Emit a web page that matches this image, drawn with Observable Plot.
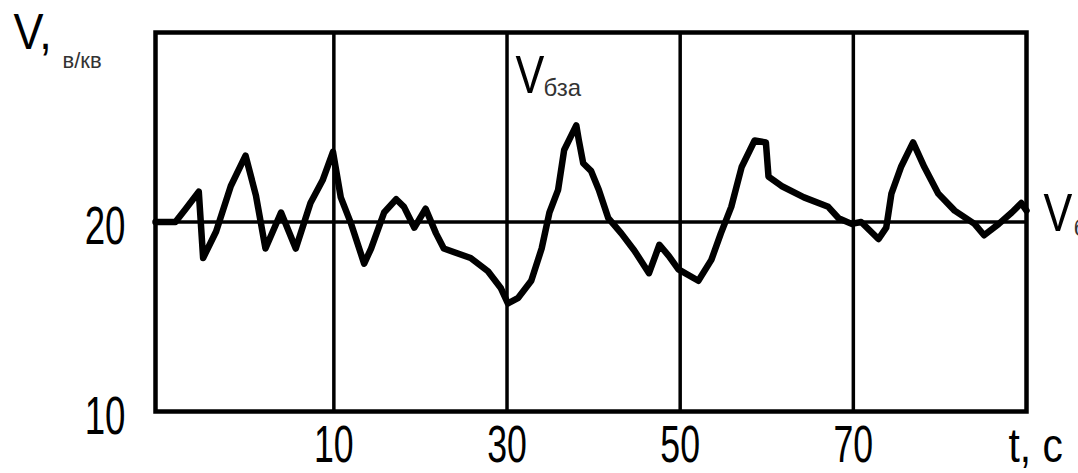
<!DOCTYPE html>
<html>
<head>
<meta charset="utf-8">
<script src="https://cdn.jsdelivr.net/npm/d3@7"></script>
<script src="https://cdn.jsdelivr.net/npm/@observablehq/plot@0.6"></script>
<style>
  html, body { margin: 0; padding: 0; background: #fff; overflow: hidden; }
  svg { display: block; }
</style>
</head>
<body>
<div id="chart"></div>
<script>
// time, s
const tValues = [-10.6, -8.3, -7.1, -5.6, -5.1, -3.6, -1.9, -0.2, 1.0, 2.1,
  3.9, 5.6, 7.3, 8.7, 9.9, 10.8, 12.0, 13.5, 14.3, 15.8,
  17.2, 18.1, 19.3, 20.6, 21.8, 22.7, 25.8, 27.8, 29.3, 30.1,
  31.3, 32.8, 34.0, 34.9, 35.9, 36.6, 38.0, 38.3, 38.8, 39.7,
  40.6, 41.7, 43.2, 44.7, 46.4, 47.6, 48.7, 49.8, 52.1, 53.6,
  54.7, 55.9, 57.1, 58.6, 59.9, 60.2, 61.7, 64.3, 67.1, 68.3,
  69.8, 70.9, 72.9, 73.8, 74.4, 75.5, 76.9, 78.2, 79.8, 81.7,
  84.0, 85.1, 86.8, 88.3, 89.4, 90.0];
// V values
const vValues = [20.0, 20.0, 20.7, 21.6, 18.1, 19.5, 21.9, 23.5, 21.4, 18.6,
  20.5, 18.6, 21.0, 22.2, 23.7, 21.3, 19.9, 17.8, 18.6, 20.5,
  21.2, 20.8, 19.7, 20.7, 19.4, 18.6, 18.1, 17.4, 16.5, 15.7,
  16.0, 16.9, 18.6, 20.5, 21.7, 23.8, 25.1, 24.3, 23.1, 22.7,
  21.7, 20.2, 19.4, 18.5, 17.3, 18.8, 18.2, 17.5, 16.9, 18.0,
  19.4, 20.8, 22.9, 24.3, 24.2, 22.4, 21.9, 21.3, 20.8, 20.2,
  19.9, 20.0, 19.1, 19.7, 21.5, 22.9, 24.2, 22.9, 21.5, 20.6,
  19.9, 19.3, 19.9, 20.5, 21.0, 20.6];
const xTicks = [10, 30, 50, 70];
const yTicks = [10, 20];
const baseLevel = [20];
const xDomain = [-10.6, 90];
const yDomain = [10, 30];

const data = tValues.map((t, i) => ({t, v: vValues[i]}));
const font = "'Liberation Sans', Arial, sans-serif";

const chart = Plot.plot({
  width: 1078,
  height: 473,
  marginLeft: 155,
  marginRight: 52,
  marginTop: 32,
  marginBottom: 62,
  style: {fontFamily: font, color: "#000", background: "#fff"},
  x: {domain: xDomain},
  y: {domain: yDomain},
  marks: [
    Plot.ruleX(xTicks, {stroke: "#000", strokeWidth: 3.5}),
    Plot.ruleY(baseLevel, {stroke: "#000", strokeWidth: 3.5}),
    Plot.frame({stroke: "#000", strokeWidth: 4.5}),
    Plot.line(data, {x: "t", y: "v", stroke: "#000", strokeWidth: 6.5, strokeLinejoin: "round", strokeLinecap: "round"}),
    Plot.axisX(xTicks, {tickSize: 0, tickPadding: 14, fontSize: 51, label: null, tickFormat: d => String(d)}),
    Plot.axisY(yTicks, {tickSize: 0, tickPadding: 30, fontSize: 54, dy: 5, label: null, tickFormat: d => String(d)}),
    Plot.text(["V,"], {frameAnchor: "top-left", dx: -142, dy: 16, textAnchor: "start", lineAnchor: "bottom", fontSize: 50}),
    Plot.text(["в/кв"], {frameAnchor: "top-left", dx: -93, dy: 35, textAnchor: "start", lineAnchor: "bottom", fontSize: 22, fill: "#333"}),
    Plot.text(["V"], {frameAnchor: "top-left", dx: 360, dy: 60, textAnchor: "start", lineAnchor: "bottom", fontSize: 54}),
    Plot.text(["бза"], {frameAnchor: "top-left", dx: 388, dy: 63, textAnchor: "start", lineAnchor: "bottom", fontSize: 24, fill: "#333"}),
    Plot.text(["V"], {frameAnchor: "right", dx: 17, dy: 8.5, textAnchor: "start", lineAnchor: "bottom", fontSize: 54}),
    Plot.text(["баз"], {frameAnchor: "right", dx: 47, dy: 13.5, textAnchor: "start", lineAnchor: "bottom", fontSize: 24, fill: "#333"}),
    Plot.text(["t, с"], {frameAnchor: "bottom-right", dx: -18, dy: 50, textAnchor: "start", lineAnchor: "bottom", fontSize: 49})
  ]
});

document.getElementById("chart").appendChild(chart);

// condense glyphs horizontally, as in the reference's narrow lettering
function condense(el, k) {
  const tr = el.attr("transform");
  if (tr) {
    el.attr("transform", tr + ` scale(${k},1)`);
  } else {
    const x = +el.attr("x") || 0, y = +el.attr("y") || 0;
    el.attr("x", null).attr("y", null).attr("transform", `translate(${x},${y}) scale(${k},1)`);
  }
}
const svg = d3.select(chart);
svg.selectAll('g[aria-label="x-axis tick label"] text')
  .each(function() { condense(d3.select(this), 0.7); });
svg.selectAll('g[aria-label="y-axis tick label"] text')
  .each(function() { condense(d3.select(this), 0.68); });
const factors = {"V,": 0.9, "V": 0.8, "t, с": 0.83};
svg.selectAll('g[aria-label="text"] text').each(function() {
  const k = factors[this.textContent];
  if (k) condense(d3.select(this), k);
});
</script>
</body>
</html>
